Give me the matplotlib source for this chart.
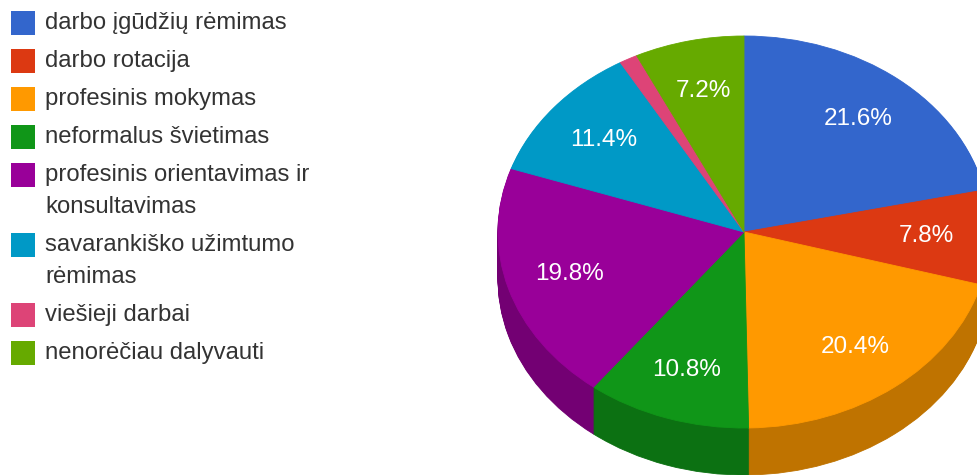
import textwrap
import numpy as np
import matplotlib
matplotlib.use("Agg")
import matplotlib.pyplot as plt
from matplotlib.patches import Rectangle
from matplotlib.colors import to_rgb

plt.rcParams["font.family"] = ["Liberation Sans", "DejaVu Sans"]

categories = [
    "darbo įgūdžių rėmimas",
    "darbo rotacija",
    "profesinis mokymas",
    "neformalus švietimas",
    "profesinis orientavimas ir konsultavimas",
    "savarankiško užimtumo rėmimas",
    "viešieji darbai",
    "nenorėčiau dalyvauti",
]
shares = [21.6, 7.8, 20.4, 10.8, 19.8, 11.4, 1.2, 7.2]
colors = ["#3366cc", "#dc3912", "#ff9900", "#109618",
          "#990099", "#0099c6", "#dd4477", "#66aa00"]

W, H = 977, 475
fig = plt.figure(figsize=(W / 100, H / 100), dpi=100)

# ---- legend (pixel coordinates) ----
lax = fig.add_axes([0, 0, 1, 1])
lax.set_xlim(0, W)
lax.set_ylim(H, 0)
lax.set_axis_off()

y = 23
for cat, col in zip(categories, colors):
    lines = textwrap.wrap(cat, 26)
    lax.add_patch(Rectangle((11, y - 12), 24, 24, facecolor=col, edgecolor="none"))
    for k, line in enumerate(lines):
        lax.text(45, y + k * 32, line, va="center", ha="left",
                 fontsize=17.2, color="#333333")
    y += 38 + 32 * (len(lines) - 1)

# ---- 3D-style pie: stacked darker layers for the rim, then the top face ----
cx, cy, rx, ry, depth = 744, 232, 246, 196, 47

ax = fig.add_axes([0, 0, 1, 1])
ax.patch.set_visible(False)

side_colors = [tuple(c * 0.75 for c in to_rgb(col)) for col in colors]
for d in np.linspace(depth / ry, 0, depth, endpoint=False):
    ws, _ = ax.pie(shares, colors=side_colors, startangle=90, counterclock=False,
                   center=(0, -d), radius=1, frame=True,
                   wedgeprops=dict(linewidth=0.6))
    for w in ws:
        w.set_edgecolor(w.get_facecolor())

wedges, texts, autotexts = ax.pie(
    shares, colors=colors, startangle=90, counterclock=False,
    center=(0, 0), radius=1, frame=True,
    autopct=lambda p: f"{p:.1f}%" if p >= 2 else "",
    pctdistance=0.74,
    textprops=dict(color="white", fontsize=17.5),
    wedgeprops=dict(linewidth=0.6),
)
for w in wedges:
    w.set_edgecolor(w.get_facecolor())

ax.set_aspect("auto")
ax.set_xlim(-cx / rx, (W - cx) / rx)
ax.set_ylim(-(H - cy) / ry, cy / ry)
ax.set_axis_off()

fig.savefig("out.png", dpi=100)
